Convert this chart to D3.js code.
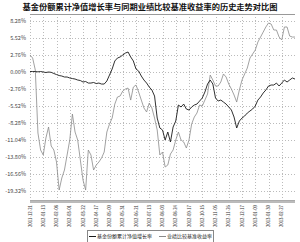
<!DOCTYPE html>
<html>
<head>
<meta charset="utf-8">
<script src="https://cdn.jsdelivr.net/npm/d3@7"></script>
<style>
  body { margin: 0; background: #fff; }
  svg { display: block; }
  text { font-family: "Noto Sans CJK SC", "Noto Sans", sans-serif; }
</style>
</head>
<body>
<svg id="chart" width="300" height="242"></svg>
<script>
// chart title and legend names
var title = "基金份额累计净值增长率与同期业绩比较基准收益率的历史走势对比图";
var seriesNames = ["基金份额累计净值增长率", "业绩比较基准收益率"];

// y tick values (%)
var yTicks = [8.28, 5.52, 2.76, 0.00, -2.76, -5.52, -8.28, -11.04, -13.80, -16.56, -19.32];

// x tick labels (one every 10 sample steps)
var xLabels = ["2011-12-21", "2012-01-13", "2012-02-08", "2012-03-01", "2012-03-22",
               "2012-04-17", "2012-05-09", "2012-05-31", "2012-06-21", "2012-07-13",
               "2012-08-03", "2012-08-24", "2012-09-17", "2012-10-15", "2012-11-05",
               "2012-11-26", "2012-12-17", "2013-01-09", "2013-01-30", "2013-02-27"];

// fund cumulative NAV growth (%), one value every 2 steps
var fund = [0.08, 0.08, 0.08, 0.03, 0.08, 0.00, -0.08, 0.00, -0.05, -0.24,
            -0.41, -0.57, -0.65, -0.81, -0.81, -0.97, -1.06, -1.14, -1.30, -1.38,
            -1.62, -1.54, -1.79, -1.79, -1.70, -1.87, -1.79, -1.95, -1.95, -1.46,
            -0.49, 0.49, 1.79, 2.27, 2.44, 2.76, 3.08, 3.25, 2.44, 1.79,
            0.49, 0.16, -0.65, -1.30, -1.79, -2.44, -2.92, -3.90, -7.47, -9.09,
            -9.41, -11.04, -9.74, -11.36, -8.93, -7.96, -5.36, -5.68, -5.20, -6.01,
            -6.17, -5.68, -5.36, -5.20, -4.71, -4.22, -3.25, -1.95, -1.30, -1.95,
            -4.22, -4.71, -4.55, -4.87, -5.20, -5.68, -6.17, -7.31, -9.09, -7.96,
            -7.47, -7.14, -6.66, -6.33, -6.01, -5.52, -4.55, -4.06, -3.41, -2.92,
            -2.27, -2.11, -2.11, -1.79, -2.27, -1.79, -1.30, -1.62, -1.30, -0.97, -1.14];

// benchmark return (%), same sampling
var bench = [2.76, 2.27, 0.32, -9.90, -12.66, -13.47, -10.72, -8.93, -12.01, -12.66,
             -14.61, -19.16, -17.21, -15.91, -13.47, -11.04, -6.82, -9.74, -11.04, -14.29,
             -17.53, -19.16, -12.66, -13.47, -15.91, -15.10, -14.61, -13.96, -12.99, -9.74,
             -8.44, -7.47, -5.20, -4.06, -3.90, -3.08, -2.76, -2.60, -4.55, -2.44,
             -2.11, -3.25, -4.55, -5.84, -6.49, -5.03, -5.84, -7.47, -9.41, -13.47,
             -12.99, -15.42, -15.10, -13.31, -12.66, -11.04, -9.74, -11.04, -11.36, -12.34,
             -11.04, -8.44, -7.31, -6.66, -5.36, -5.52, -4.55, -3.57, -0.49, -1.30,
             -2.27, -2.27, -1.62, -0.32, -0.81, -1.95, -2.76, -3.73, -4.87, -2.92,
             -1.30, -0.32, 0.65, 2.27, 2.92, 3.57, 4.87, 5.68, 6.49, 7.31,
             7.96, 7.79, 6.82, 6.82, 5.68, 5.20, 7.31, 7.31, 5.84, 5.68, 5.68];

var svg = d3.select("#chart");
var plotLeft = 30, plotRight = 295, plotTop = 14, plotBottom = 201;

var x = d3.scaleLinear().domain([0, 200]).range([plotLeft, plotRight]);
var y = d3.scaleLinear().domain([-20.94, 9.42]).range([plotBottom, plotTop]);

// title
svg.append("text")
    .attr("x", 150).attr("y", 10)
    .attr("text-anchor", "middle")
    .attr("font-size", "7.6px")
    .attr("font-weight", "bold")
    .attr("fill", "#111")
    .attr("textLength", 255)
    .attr("lengthAdjust", "spacingAndGlyphs")
    .text(title);

// horizontal grid
svg.append("g").selectAll("line")
    .data(yTicks).enter().append("line")
    .attr("x1", plotLeft).attr("x2", plotRight)
    .attr("y1", function(d) { return Math.round(y(d)) + 0.5; })
    .attr("y2", function(d) { return Math.round(y(d)) + 0.5; })
    .attr("stroke", "#bbb").attr("stroke-dasharray", "1,2");

// vertical grid
svg.append("g").selectAll("line")
    .data(xLabels).enter().append("line")
    .attr("x1", function(d, i) { return Math.round(x(i * 10)) + 0.5; })
    .attr("x2", function(d, i) { return Math.round(x(i * 10)) + 0.5; })
    .attr("y1", plotTop).attr("y2", plotBottom - 1)
    .attr("stroke", "#bbb").attr("stroke-dasharray", "1,2");

// frame top + bottom double line
svg.append("line").attr("x1", plotLeft).attr("x2", plotRight).attr("y1", plotTop + 0.5).attr("y2", plotTop + 0.5)
    .attr("stroke", "#999");
svg.append("line").attr("x1", plotLeft).attr("x2", plotRight).attr("y1", 200.5).attr("y2", 200.5)
    .attr("stroke", "#aaa");
svg.append("line").attr("x1", plotLeft).attr("x2", plotRight).attr("y1", 202).attr("y2", 202)
    .attr("stroke", "#777");

// y labels
svg.append("g").selectAll("text")
    .data(yTicks).enter().append("text")
    .attr("x", 26).attr("y", function(d) { return y(d) + 2; })
    .attr("text-anchor", "end")
    .attr("font-size", "5.5px")
    .attr("fill", "#444")
    .text(function(d) { return d.toFixed(2) + "%"; });

// x labels
svg.append("g").selectAll("text")
    .data(xLabels).enter().append("text")
    .attr("transform", function(d, i) { return "translate(" + (x(i * 10) + 1.5) + ",205) rotate(-90)"; })
    .attr("text-anchor", "end")
    .attr("font-size", "4.3px")
    .attr("fill", "#333")
    .text(function(d) { return d; });

var line = d3.line()
    .x(function(d, i) { return x(i * 2); })
    .y(function(d) { return y(d); });

svg.append("path").datum(bench)
    .attr("d", line).attr("fill", "none")
    .attr("stroke", "#8a8a8a").attr("stroke-width", 0.8);

svg.append("path").datum(fund)
    .attr("d", line).attr("fill", "none")
    .attr("stroke", "#1a1a1a").attr("stroke-width", 0.9);

// legend
var lg = svg.append("g");
lg.append("rect").attr("x", 87.5).attr("y", 230.5).attr("width", 126).attr("height", 14)
    .attr("fill", "#fff").attr("stroke", "#888");
var legColors = ["#1a1a1a", "#8a8a8a"];
var legX = [89, 159];
seriesNames.forEach(function(name, i) {
    lg.append("line").attr("x1", legX[i]).attr("x2", legX[i] + 7)
        .attr("y1", 236.5).attr("y2", 236.5)
        .attr("stroke", legColors[i]);
    lg.append("text").attr("x", legX[i] + 8).attr("y", 238.3)
        .attr("font-size", "5px").attr("fill", "#222")
        .text(name);
});
</script>
</body>
</html>
